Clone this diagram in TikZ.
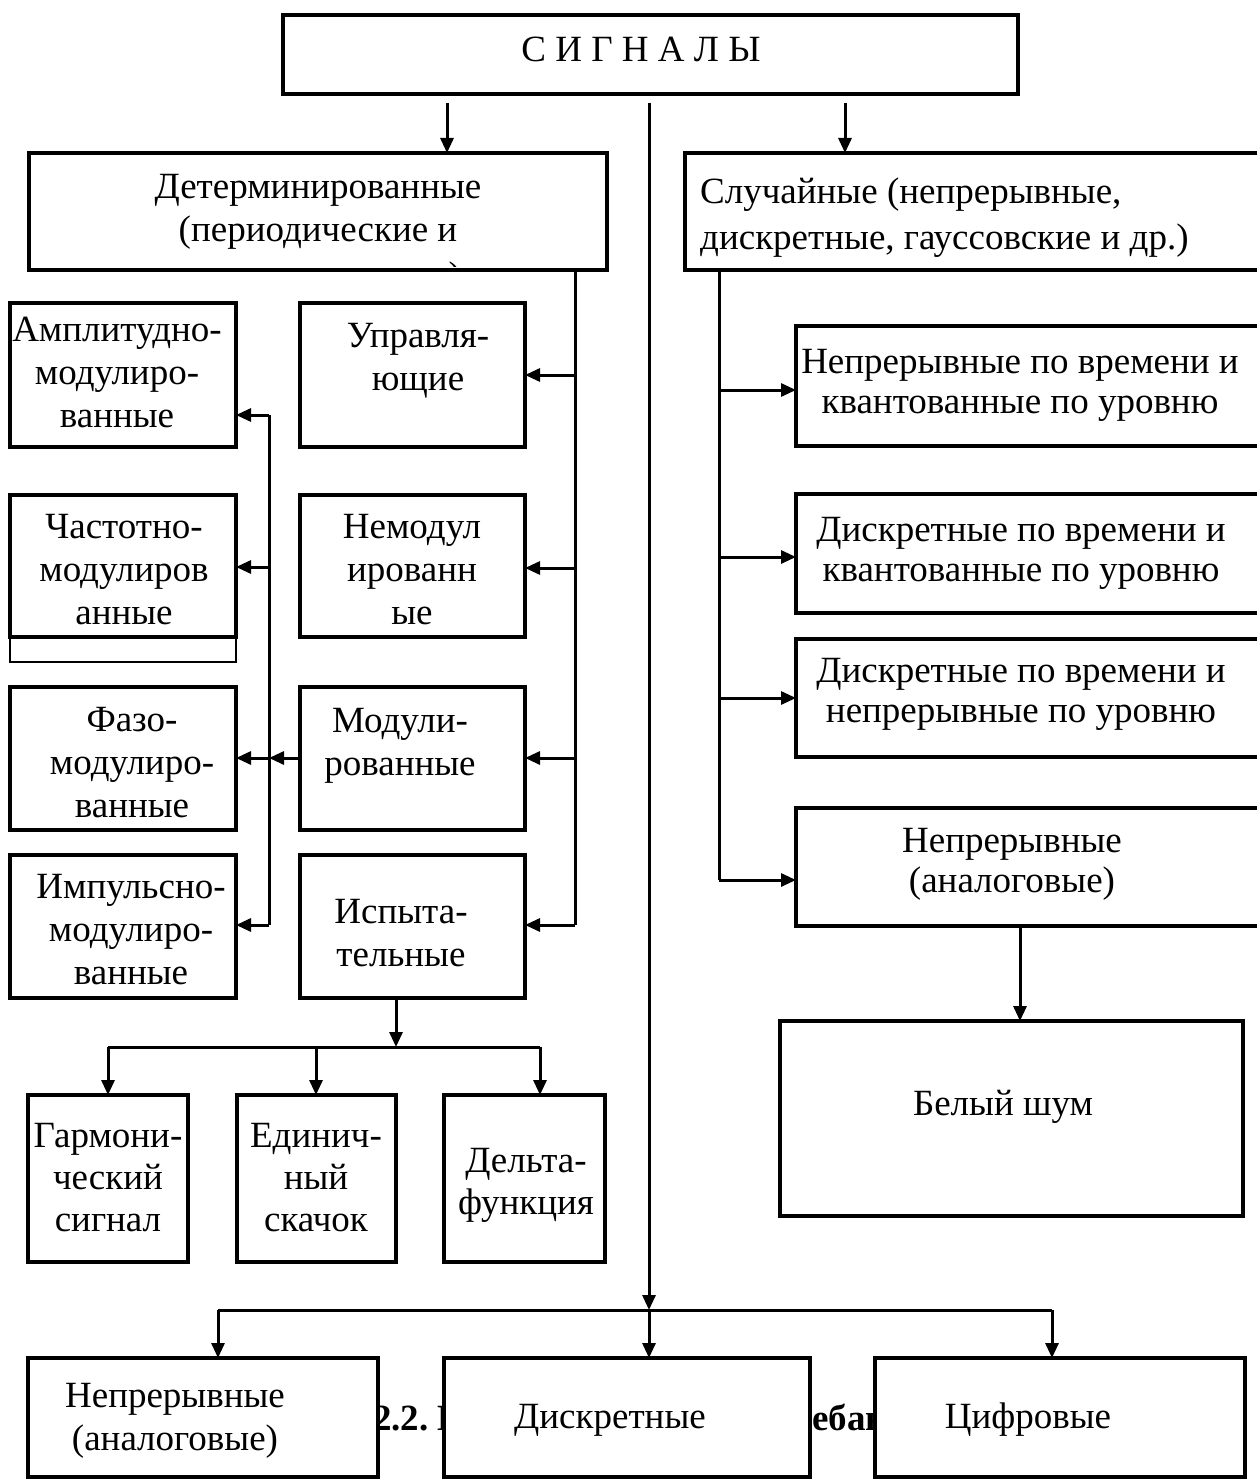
\documentclass[tikz,border=0pt]{standalone}
\usepackage{fontspec}
\setmainfont{Liberation Serif}
\usetikzlibrary{arrows.meta}
\newcommand\fsz[1]{\fontsize{37}{#1}\selectfont}
\newcommand\mybox[5]{\node[box, minimum width={#4-#2}, minimum height={#5-#3}] (#1) at ({(#2+#4)/2},{(#3+#5)/2}) {};}
\begin{document}
\begin{tikzpicture}[x=1pt,y=-1pt,
  box/.style={draw, line width=3.5pt, fill=white, inner sep=0pt, outer sep=0pt},
  thinbox/.style={draw, line width=1.5pt, inner sep=0pt, outer sep=0pt},
  conn/.style={line width=3pt},
  arr/.style={line width=3pt, -{Triangle[length=15pt,width=13pt]}},
  txt/.style={align=center, inner sep=0pt, anchor=base, font=\fsz{43}},
  tight/.style={font=\fsz{42}},
  mid/.style={font=\fsz{40}},
  ltxt/.style={align=left, inner sep=0pt, anchor=base west, font=\fsz{46}},
  captxt/.style={inner sep=0pt, anchor=base west, font=\fsz{43}\bfseries}]
\clip (0,0) rectangle (1257,1479);
\fill[white] (0,0) rectangle (1257,1479);

% ---------- junction coordinates ----------
\coordinate (s0) at (649,103);
\coordinate (s1) at (447,103);
\coordinate (s2) at (845,103);
\coordinate (hb) at (649,1310);
\coordinate (hl) at (218,1310);
\coordinate (hr) at (1052,1310);
\coordinate (d0) at (575,270);
\coordinate (d1) at (575,375);
\coordinate (d2) at (575,568);
\coordinate (d3) at (575,758);
\coordinate (d4) at (575,925);
\coordinate (l1) at (269,415);
\coordinate (l2) at (269,567);
\coordinate (l3) at (269,758);
\coordinate (l4) at (269,925);
\coordinate (q0) at (719,270);
\coordinate (q1) at (719,390);
\coordinate (q2) at (719,557);
\coordinate (q3) at (719,698);
\coordinate (q4) at (719,880);
\coordinate (w0) at (1020,926);
\coordinate (ih) at (396,1047);
\coordinate (il) at (108,1047);
\coordinate (im) at (316,1047);
\coordinate (ir) at (540,1047);

% ---------- caption fragments (the rest hidden behind boxes) ----------
\begin{scope}
\clip (378,1370) rectangle (444,1470);
\node[captxt] (capA) at (373,1430) {2.2.~К};
\end{scope}
\begin{scope}
\clip (810,1370) rectangle (876,1470);
\node[captxt] (capB) at (812,1430) {ебан};
\end{scope}

% ---------- boxes ----------
\mybox{title}{283}{15}{1018}{94}
\mybox{det}{29}{153}{607}{270}
\mybox{rnd}{685}{153}{1268}{270}
\node[thinbox, minimum width=226, minimum height=25] (frqx) at (123,649.5) {};
\mybox{amp}{10}{303}{236}{447}
\mybox{frq}{10}{495}{236}{637}
\mybox{faz}{10}{687}{236}{830}
\mybox{imp}{10}{855}{236}{998}
\mybox{upr}{300}{303}{525}{447}
\mybox{nem}{300}{495}{525}{637}
\mybox{mod}{300}{687}{525}{830}
\mybox{isp}{300}{855}{525}{998}
\mybox{garm}{28}{1095}{188}{1262}
\mybox{edin}{237}{1095}{396}{1262}
\mybox{delt}{444}{1095}{605}{1262}
\mybox{ra}{796}{326}{1268}{446}
\mybox{rb}{796}{494}{1268}{613}
\mybox{rc}{796}{639}{1268}{757}
\mybox{rd}{796}{808}{1268}{926}
\mybox{wn}{780}{1021}{1243}{1216}
\mybox{ba}{28}{1358}{378}{1477}
\mybox{bb}{444}{1358}{810}{1477}
\mybox{bc}{875}{1358}{1245}{1477}

% ---------- arrows ----------
\draw[arr] (s1) -- (s1 |- det.north);
\draw[arr] (s2) -- (s2 |- rnd.north);
\draw[arr] (s0) -- (hb);
\draw[conn] (hl) -- (hr);
\draw[arr] (hl) -- (hl |- ba.north);
\draw[arr] (hb) -- (hb |- bb.north);
\draw[arr] (hr) -- (hr |- bc.north);

\draw[conn] (d0) -- (d4);
\draw[arr] (d1) -- (d1 -| upr.east);
\draw[arr] (d2) -- (d2 -| nem.east);
\draw[arr] (d3) -- (d3 -| mod.east);
\draw[arr] (d4) -- (d4 -| isp.east);

\draw[conn] (l1) -- (l4);
\draw[arr] (l1) -- (l1 -| amp.east);
\draw[arr] (l2) -- (l2 -| frq.east);
\draw[arr] (l3) -- (l3 -| faz.east);
\draw[arr] (l4) -- (l4 -| imp.east);
\draw[arr] (l3 -| mod.west) -- (l3);

\draw[conn] (q0) -- (q4);
\draw[arr] (q1) -- (q1 -| ra.west);
\draw[arr] (q2) -- (q2 -| rb.west);
\draw[arr] (q3) -- (q3 -| rc.west);
\draw[arr] (q4) -- (q4 -| rd.west);
\draw[arr] (w0 |- rd.south) -- (w0 |- wn.north);

\draw[arr] (ih |- isp.south) -- (ih);
\draw[conn] (il) -- (ir);
\draw[arr] (il) -- (il |- garm.north);
\draw[arr] (im) -- (im |- edin.north);
\draw[arr] (ir) -- (ir |- delt.north);

% ---------- texts (anchor = baseline of the last line) ----------
\node[txt] (t-title) at (641,62) {С И Г Н А Л Ы};
\node[txt] (t-det) at (318,241) {Детерминированные\\(периодические и};
\begin{scope}
\clip (31,155) rectangle (605,266);
\node[txt] (t-det3) at (318,287) {непериодические)};
\end{scope}
\node[ltxt] (t-rnd) at (700,250) {Случайные (непрерывные,\\дискретные, гауссовские и др.)};
\node[txt] (t-amp) at (117,427) {Амплитудно-\\модулиро-\\ванные};
\node[txt] (t-frq) at (124,624) {Частотно-\\модулиров\\анные};
\node[txt] (t-faz) at (132,817) {Фазо-\\модулиро-\\ванные};
\node[txt] (t-imp) at (131,984) {Импульсно-\\модулиро-\\ванные};
\node[txt] (t-upr) at (418,390) {Управля-\\ющие};
\node[txt] (t-nem) at (412,624) {Немодул\\ированн\\ые};
\node[txt] (t-mod) at (400,775) {Модули-\\рованные};
\node[txt] (t-isp) at (401,966) {Испыта-\\тельные};
\node[txt, tight] (t-garm) at (108,1231) {Гармони-\\ческий\\сигнал};
\node[txt, tight] (t-edin) at (316,1231) {Единич-\\ный\\скачок};
\node[txt, tight] (t-delt) at (526,1214) {Дельта-\\функция};
\node[txt, mid] (t-ra) at (1020,413) {Непрерывные по времени и\\квантованные по уровню};
\node[txt, mid] (t-rb) at (1021,581) {Дискретные по времени и\\квантованные по уровню};
\node[txt, mid] (t-rc) at (1021,722) {Дискретные по времени и\\непрерывные по уровню};
\node[txt, mid] (t-rd) at (1012,892) {Непрерывные\\(аналоговые)};
\node[txt] (t-wn) at (1003,1115) {Белый шум};
\node[txt] (t-ba) at (175,1450) {Непрерывные\\(аналоговые)};
\node[txt] (t-bb) at (610,1428) {Дискретные};
\node[txt] (t-bc) at (1028,1428) {Цифровые};
\end{tikzpicture}
\end{document}
